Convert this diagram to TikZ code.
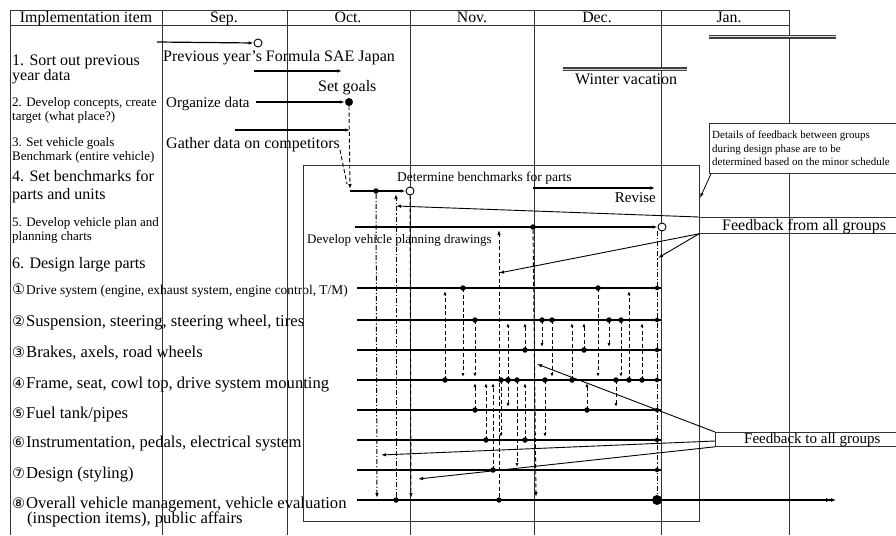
\documentclass[tikz,border=0pt]{standalone}
\usepackage{fontspec}
\setmainfont{Liberation Serif}
\newfontfamily\circfont{DejaVu Sans}
\usetikzlibrary{arrows.meta}
\newcommand\circnum[1]{{\circfont\fontsize{14.5}{14.5}\selectfont #1}\kern1pt}
\begin{document}
\begin{tikzpicture}[x=1pt,y=-1pt,
  txtL/.style={font=\fontsize{16}{16}\selectfont, inner sep=0, anchor=base west},
  txtG/.style={font=\fontsize{16.6}{16.6}\selectfont, inner sep=0, anchor=base west},
  txtM/.style={font=\fontsize{15}{15}\selectfont, inner sep=0, anchor=base west},
  txtS/.style={font=\fontsize{13}{13}\selectfont, inner sep=0, anchor=base west},
  txtXS/.style={font=\fontsize{11}{11}\selectfont, inner sep=0, anchor=base west},
  txtH/.style={font=\fontsize{15.8}{15.8}\selectfont, inner sep=0, anchor=base},
  grid/.style={line width=0.9pt, draw=black!80},
  bar/.style={line width=1.2pt},
  arr/.style={-{Latex[length=5pt,width=3.5pt]}},
  sarr/.style={-{Latex[length=4pt,width=3pt]}},
  dsh/.style={dash pattern=on 4pt off 2.5pt, line width=0.9pt},
  dshdot/.style={dash pattern=on 5pt off 2pt on 1.2pt off 2pt, line width=1pt},
  dot/.style={circle, fill, inner sep=0, minimum size=5.5pt},
  bigdot/.style={circle, fill, inner sep=0, minimum size=10pt},
  ocirc/.style={circle, draw, fill=white, inner sep=0, minimum size=8pt, line width=0.9pt},
  dbl/.style={draw=black!75, double=black!15, double distance=1pt, line width=1.2pt}]
\useasboundingbox (0,0) rectangle (896,535);
\fill[white] (0,0) rectangle (896,535);

% table
\draw[grid] (10,10) -- (789,10);
\draw[grid] (10,25) -- (789,25);
\foreach \x in {10,162,287,410,534,661,789} \draw[grid] (\x,10) -- (\x,535);

\node[txtH] (hI) at (86,23) {Implementation item};
\node[txtH] (hS) at (224,23) {Sep.};
\node[txtH] (hO) at (348,23) {Oct.};
\node[txtH] (hN) at (472,23) {Nov.};
\node[txtH] (hD) at (597,23) {Dec.};
\node[txtH] (hJ) at (729,23) {Jan.};

% row labels
\node[txtL] (l1a) at (12,66) {1. Sort out previous};
\node[txtL] (l1b) at (12,81) {year data};
\node[txtS] (l2a) at (12,106) {2. Develop concepts, create};
\node[txtS] (l2b) at (12,120) {target (what place?)};
\node[txtS] (l3a) at (12,146) {3. Set vehicle goals};
\node[txtS] (l3b) at (12,160) {Benchmark (entire vehicle)};
\node[txtL] (l4a) at (12,181) {4. Set benchmarks for};
\node[txtL] (l4b) at (12,199) {parts and units};
\node[txtS] (l5a) at (12,226) {5. Develop vehicle plan and};
\node[txtS] (l5b) at (12,240) {planning charts};
\node[txtL] (l6) at (12,268) {6. Design large parts};
\node[txtS, font=\fontsize{13.4}{13.4}\selectfont] (g1) at (12,294) {\circnum{①}Drive system (engine, exhaust system, engine control, T/M)};
\node[txtG] (g2) at (12,326) {\circnum{②}Suspension, steering, steering wheel, tires};
\node[txtG] (g3) at (12,357) {\circnum{③}Brakes, axels, road wheels};
\node[txtG] (g4) at (12,388) {\circnum{④}Frame, seat, cowl top, drive system mounting};
\node[txtG] (g5) at (12,418) {\circnum{⑤}Fuel tank/pipes};
\node[txtG] (g6) at (12,447) {\circnum{⑥}Instrumentation, pedals, electrical system};
\node[txtG] (g7) at (12,478) {\circnum{⑦}Design (styling)};
\node[txtG] (g8a) at (12,508) {\circnum{⑧}Overall vehicle management, vehicle evaluation};
\node[txtG] (g8b) at (27,523) {(inspection items), public affairs};

% top part
\node[txtL] (prev) at (163,62) {Previous year’s Formula SAE Japan};
\node[txtL] (setg) at (318,92) {Set goals};
\node[txtM] (org) at (166,107) {Organize data};
\node[txtL] (gath) at (166,148) {Gather data on competitors};
\node[ocirc] (c1) at (258,43) {};
\draw[bar,arr] (157,42) -- (c1.west);
\draw[bar,arr] (254,71) -- (342,71);
\node[dot, minimum size=8pt] (sg) at (349,102) {};
\draw[bar,arr] (org.east |- sg) ++(6,0) -- (sg.west);
\draw[bar,arr] (235,130) -- (350,130);
\draw[dsh,arr] (sg.south) -- (350,189);
\draw[dsh] (340,150) -- (347,184);

\draw[dbl] (709,37) -- (836,37);
\draw[dbl] (563,69) -- (687,69);
\node[txtL] (wint) at (575,84) {Winter vacation};

% inner box
\draw[grid, line width=0.9pt] (303,165) rectangle (699,521);
\node[font=\fontsize{13.5}{13.5}\selectfont, inner sep=0, anchor=base west] (detb) at (397,181) {Determine benchmarks for parts};
\node[txtM, anchor=base east] (rev) at (656,202) {Revise};
\node[txtS] (devd) at (307,243) {Develop vehicle planning drawings};

% item 4 / 5 lines
\node[ocirc] (c4) at (410,191) {};
\draw[bar,arr] (350,191) -- (c4.west);
\node[dot] (d4) at (376,191) {};
\node[ocirc] (c5) at (662,227) {};
\draw[bar,arr] (355,227) -- (c5.west);
\node[dot] (d5) at (533,227) {};
\draw[bar,arr] (533,188) -- (655,188);

% row lines
\foreach \y in {288,320,350,380,410,440,470} {
  \draw[bar] (357,\y) -- (661,\y);
  \node[dot, minimum size=4.5pt] at (657,\y) {};
}
\draw[bar,-{Latex[length=5pt,width=4pt]Latex[length=5pt,width=4pt]}] (357,500) -- (836,500);
\node[bigdot] (bd8) at (657,500) {};

% long verticals
\draw[dshdot,arr] (d4) -- (377,498);
\node[dot] (d8a) at (396,500) {};
\draw[dshdot,arr] (d8a) -- (396,194);
\draw[dsh,arr] (c4.south) -- (411,498);
\draw[dshdot] (657,231) -- (bd8);
\draw[dsh,arr] (d5) -- (536,497);
\node[dot] (d8b) at (499,500) {};
\draw[dsh,arr] (d8b) -- (499,230);

% short connectors (x / start with dot / arrow end)
\foreach \x/\a/\b in {445/380/291, 463/288/377, 475/320/377, 508/380/323, 525/350/323,
  542/320/347, 552/320/377, 572/380/323, 584/350/323, 598/288/377, 609/320/347,
  621/320/377, 629/380/291, 642/380/323,
  475/410/383, 486/440/383, 493/470/383, 501/380/437, 508/380/407, 517/380/467,
  525/440/383, 545/380/437, 587/410/383, 616/380/407} {
  \node[dot] at (\x,\a) {};
  \draw[dsh,sarr] (\x,\a) -- (\x,\b);
}

% callout
\node[draw=black!80, line width=0.8pt, fill=white, anchor=north west, minimum width=200pt, minimum height=50pt, inner sep=0] (call) at (709,123) {};
\node[txtXS] (ct1) at (712,138) {Details of feedback between groups};
\node[txtXS] (ct2) at (712,152) {during design phase are to be};
\node[txtXS] (ct3) at (712,165) {determined based on the minor schedule};
\coordinate (callp) at (700,198);
\draw[line width=0.8pt,arr] ([xshift=2pt]call.south west) -- (callp);

% feedback from all groups
\node[draw=black!80, line width=0.8pt, anchor=north west, minimum width=200pt, minimum height=16pt, inner sep=0] (fbf) at (699,217) {};
\node[txtL] (fbft) at (722,230) {Feedback from all groups};
\coordinate (fa1) at (396,206);
\coordinate (fa2) at (499,273);
\coordinate (fa3) at (658,258);
\draw[line width=0.9pt,arr] (fbf.north west) -- (fa1);
\draw[line width=0.9pt,arr] (fbf.south west) -- (fa2);
\draw[line width=0.9pt,arr] (fbf.south west) -- (fa3);

% feedback to all groups
\node[draw=black!80, line width=0.8pt, anchor=north west, minimum width=200pt, minimum height=14pt, inner sep=0] (fbt) at (715,432) {};
\node[txtM] (fbtt) at (744,443) {Feedback to all groups};
\coordinate (fbt1) at (715,441);
\coordinate (tb1) at (537,364);
\coordinate (tb2) at (381,455);
\coordinate (tb3) at (418,479);
\draw[line width=0.9pt,arr] (fbt.north west) -- (tb1);
\draw[line width=0.9pt,arr] (fbt1) -- (tb2);
\draw[line width=0.9pt,arr] (fbt.south west) -- (tb3);
\end{tikzpicture}
\end{document}
